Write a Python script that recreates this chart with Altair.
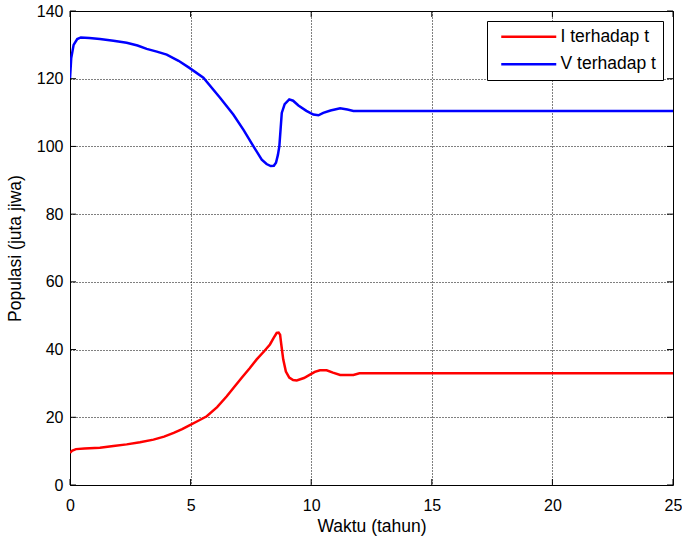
import altair as alt
import pandas as pd

# Data
t_I = [0, 0.1, 0.25, 0.6, 1.24, 1.8, 2.35, 2.9, 3.46, 3.9, 4.3, 4.65, 4.95, 5.3, 5.67,
       6.1, 6.5, 6.8, 7.12, 7.45, 7.74, 8.05, 8.29, 8.45, 8.57, 8.65, 8.71, 8.76, 8.84,
       8.95, 9.09, 9.25, 9.4, 9.7, 9.95, 10.15, 10.36, 10.64, 10.9, 11.2, 11.75, 12.0, 25]
I_vals = [9.5, 10.2, 10.6, 10.8, 11.0, 11.5, 12.0, 12.6, 13.4, 14.3, 15.4, 16.5, 17.6,
          18.9, 20.3, 23.0, 26.2, 28.9, 31.7, 34.5, 37.1, 39.5, 41.5, 43.5, 44.9, 45.0,
          44.4, 41.5, 37.1, 33.5, 31.7, 31.0, 30.9, 31.6, 32.6, 33.4, 33.9, 33.9, 33.2,
          32.5, 32.5, 33.0, 33.0]

t_V = [0, 0.05, 0.15, 0.3, 0.45, 0.8, 1.24, 1.8, 2.35, 2.8, 3.18, 3.6, 4.01, 4.5, 4.95,
       5.53, 6.22, 6.77, 7.2, 7.6, 7.95, 8.15, 8.32, 8.45, 8.54, 8.62, 8.68, 8.73, 8.78,
       8.9, 9.09, 9.25, 9.47, 9.8, 10.09, 10.3, 10.5, 10.8, 11.2, 11.5, 11.75, 25]
V_vals = [120, 126, 130, 131.7, 132.2, 132.0, 131.7, 131.2, 130.6, 129.8, 128.8, 128.0,
          127.1, 125.3, 123.2, 120.3, 114.4, 109.4, 104.8, 100.1, 96.1, 94.8, 94.2, 94.3,
          95.2, 97.5, 100.1, 105.0, 109.9, 112.5, 113.9, 113.5, 112.1, 110.5, 109.4, 109.2,
          109.9, 110.6, 111.3, 110.9, 110.5, 110.5]

series_names = ["I terhadap t", "V terhadap t"]
series_colors = ["#ff0000", "#0000ff"]

x_ticks = [0, 5, 10, 15, 20, 25]
y_ticks = [0, 20, 40, 60, 80, 100, 120, 140]

W, H = 603, 474
FONT = "Liberation Sans"

df = pd.concat([
    pd.DataFrame({"t": t_I, "val": I_vals, "series": series_names[0], "ord": range(len(t_I))}),
    pd.DataFrame({"t": t_V, "val": V_vals, "series": series_names[1], "ord": range(len(t_V))}),
], ignore_index=True)

xscale = alt.Scale(domain=[0, 25], nice=False, zero=False)
yscale = alt.Scale(domain=[0, 140], nice=False)

lines = alt.Chart(df).mark_line(strokeWidth=2.5, clip=True).encode(
    x=alt.X("t:Q", scale=xscale,
            axis=alt.Axis(values=x_ticks, title="Waktu (tahun)", grid=True, labelFlush=False,
                          tickSize=0, labelPadding=12, titlePadding=4, format="d")),
    y=alt.Y("val:Q", scale=yscale,
            axis=alt.Axis(values=y_ticks, title="Populasi (juta jiwa)", grid=True, labelFlush=False,
                          tickSize=0, labelPadding=7, titlePadding=12, format="d")),
    color=alt.Color("series:N",
                    scale=alt.Scale(domain=series_names, range=series_colors),
                    legend=alt.Legend(title=None, orient="none", legendX=417, legendY=10,
                                      fillColor="white", strokeColor="black", padding=7,
                                      symbolType="M-5,0H5", symbolStrokeWidth=2.5,
                                      symbolSize=121, symbolOffset=26,
                                      labelFontSize=17.5, labelFont=FONT,
                                      labelColor="black", labelOffset=23, rowPadding=8.5)),
    order="ord:Q",
)

xt = pd.DataFrame({"t": x_ticks})
yt = pd.DataFrame({"val": y_ticks})

xtick_b = alt.Chart(xt).mark_rule(color="black", strokeWidth=1).encode(
    x=alt.X("t:Q", scale=xscale), y=alt.value(H), y2=alt.value(H - 6))
xtick_t = alt.Chart(xt).mark_rule(color="black", strokeWidth=1).encode(
    x=alt.X("t:Q", scale=xscale), y=alt.value(0), y2=alt.value(6))
ytick_l = alt.Chart(yt).mark_rule(color="black", strokeWidth=1).encode(
    y=alt.Y("val:Q", scale=yscale), x=alt.value(0), x2=alt.value(6))
ytick_r = alt.Chart(yt).mark_rule(color="black", strokeWidth=1).encode(
    y=alt.Y("val:Q", scale=yscale), x=alt.value(W), x2=alt.value(W - 6))

chart = alt.layer(lines, xtick_b, xtick_t, ytick_l, ytick_r).properties(
    width=W, height=H,
    autosize=alt.AutoSizeParams(type="none"),
    padding={"left": 70, "top": 11, "right": 9, "bottom": 52},
    background="white",
).configure_view(
    stroke="black", strokeWidth=1
).configure_axis(
    labelFont=FONT, titleFont=FONT, labelFontSize=16, titleFontSize=17.5,
    labelColor="black", titleColor="black", titleFontWeight="normal",
    gridColor="black", gridOpacity=1, gridDash=[1, 2], gridWidth=1,
    domain=False,
)

chart.save("out.html", embed_options={"renderer": "svg", "actions": False})
